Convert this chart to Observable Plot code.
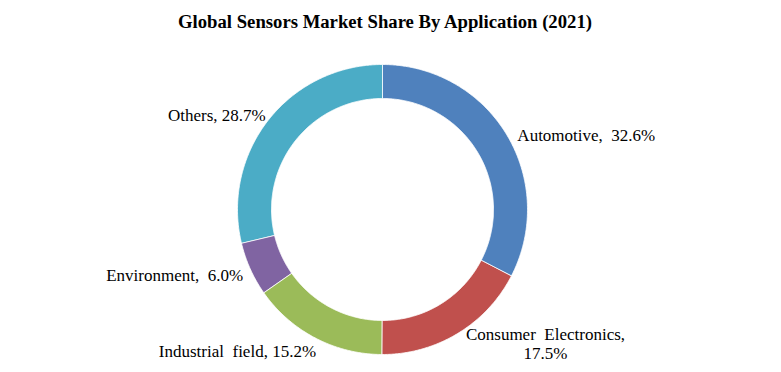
<!DOCTYPE html>
<html><head><meta charset="utf-8">
<script src="https://cdn.jsdelivr.net/npm/d3@7"></script>
<script src="https://cdn.jsdelivr.net/npm/@observablehq/plot@0.6"></script>
<style>
body{margin:0;background:#fff;}
#title{font-family:"Liberation Serif","Times New Roman",serif;font-weight:bold;font-size:18.7px;color:#000;text-align:center;width:770px;height:44px;line-height:44px;}
#chart svg{display:block;}
</style></head>
<body>
<div id="title">Global Sensors Market Share By Application (2021)</div>
<div id="chart"></div>
<script>
const categories = ["Automotive", "Consumer Electronics", "Industrial field", "Environment", "Others"];
const shares = [32.6, 17.5, 15.2, 6.0, 28.7];
const labelTexts = ["Automotive,  32.6%", "Consumer  Electronics,\n17.5%", "Industrial  field, 15.2%", "Environment,  6.0%", "Others, 28.7%"];
const colors = ["#4F81BD", "#C0504D", "#9BBB59", "#8064A2", "#4BACC6"];

// layout
const W = 781, H = 328, CX = 382, CY = 165, R = 145, RI = 111;
const labelLayout = [
  {anchor: "start", dx: 11, dy: 1},
  {anchor: "middle", dx: 88, dy: 10},
  {anchor: "end", dx: 1, dy: 13},
  {anchor: "end", dx: -7, dy: 6},
  {anchor: "end", dx: -3, dy: -5}
];

const total = d3.sum(shares);
const cum = d3.cumsum(shares);
const inner = RI / R;
const ringPts = [];
const mids = [];
categories.forEach((c, i) => {
  const a0 = ((cum[i] - shares[i]) / total) * 2 * Math.PI;
  const a1 = (cum[i] / total) * 2 * Math.PI;
  mids.push({name: c, text: labelTexts[i], a: (a0 + a1) / 2, i});
  const n = Math.max(2, Math.ceil((a1 - a0) / 0.01));
  for (let k = 0; k <= n; k++) {
    const t = a0 + (a1 - a0) * k / n;
    ringPts.push({name: c, x: Math.sin(t), y: Math.cos(t)});
  }
  for (let k = n; k >= 0; k--) {
    const t = a0 + (a1 - a0) * k / n;
    ringPts.push({name: c, x: inner * Math.sin(t), y: inner * Math.cos(t)});
  }
});

const marks = [
  Plot.line(ringPts, {x: "x", y: "y", z: "name", fill: "name", stroke: "white", strokeWidth: 0.8, curve: "linear-closed"})
];
mids.forEach((m, i) => {
  const L = labelLayout[i];
  marks.push(Plot.text([m], {
    x: d => Math.sin(d.a), y: d => Math.cos(d.a), text: "text",
    textAnchor: L.anchor, dx: L.dx, dy: L.dy,
    fontFamily: "Liberation Serif, Times New Roman, serif", fontSize: 17, fill: "#000", lineHeight: 1.12,
    style: "white-space:pre"
  }));
});

const plot = Plot.plot({
  width: W, height: H, margin: 0,
  x: {domain: [-CX / R, (W - CX) / R], axis: null},
  y: {domain: [-(H - CY) / R, CY / R], axis: null},
  color: {domain: categories, range: colors},
  marks
});
document.getElementById("chart").appendChild(plot);
</script>
</body></html>
